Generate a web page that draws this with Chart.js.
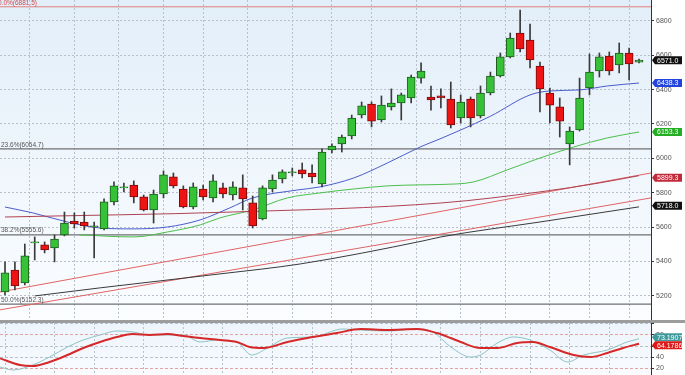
<!DOCTYPE html>
<html>
<head>
<meta charset="utf-8">
<script src="https://cdn.jsdelivr.net/npm/chart.js@4.4.0/dist/chart.umd.min.js"></script>
<style>
  html, body { margin: 0; padding: 0; background: #fff; }
  #wrap { position: relative; width: 685px; height: 375px; overflow: hidden; }
  #main { position: absolute; left: 0; top: 0; }
  #sep { position: absolute; left: 0; top: 320px; width: 685px; height: 3px; background: #9c9c9c; }
  #sub { position: absolute; left: 0; top: 323px; }
</style>
</head>
<body>
<div id="wrap">
  <canvas id="main" width="685" height="320"></canvas>
  <div id="sep"></div>
  <canvas id="sub" width="685" height="52"></canvas>
</div>
<script>
// daily candles, index 0..64
const opens  = [5223,5351,5276,5508,5497,5479,5555,5636,5630,5601,5590,5747,5828,5845,5776,5700,5793,5892,5822,5717,5822,5770,5828,5787,5828,5741,5648,5822,5880,5915,5933,5915,5851,6049,6084,6130,6252,6316,6223,6299,6322,6351,6467,6357,6363,6345,6235,6345,6247,6380,6479,6590,6729,6688,6537,6380,6299,6084,6165,6409,6508,6595,6543,6613,6560];
const highs  = [5398,5398,5502,5543,5514,5555,5688,5683,5688,5630,5764,5863,5857,5869,5787,5816,5927,5915,5840,5857,5845,5904,5857,5863,5904,5781,5840,5904,5933,5944,5973,5962,6055,6084,6136,6252,6328,6328,6363,6404,6380,6485,6555,6421,6404,6444,6369,6357,6421,6502,6613,6729,6863,6781,6560,6409,6351,6183,6467,6607,6613,6619,6671,6642,6578];
const lows   = [5206,5235,5264,5409,5450,5398,5549,5595,5584,5421,5584,5729,5805,5741,5694,5624,5770,5828,5712,5706,5758,5747,5770,5758,5700,5595,5642,5805,5857,5898,5886,5857,5834,6031,6037,6113,6235,6183,6212,6281,6223,6322,6438,6281,6293,6177,6206,6183,6235,6369,6473,6584,6619,6526,6270,6206,6124,5962,6159,6369,6473,6485,6497,6456,6555];
const closes = [5334,5258,5433,5514,5468,5531,5624,5619,5607,5607,5747,5840,5834,5776,5700,5793,5904,5840,5717,5834,5776,5869,5793,5834,5764,5607,5828,5874,5921,5921,5909,5892,6037,6072,6124,6235,6305,6217,6310,6322,6369,6473,6508,6340,6351,6194,6328,6235,6380,6479,6590,6700,6636,6572,6404,6310,6217,6159,6351,6502,6590,6508,6613,6549,6571];

// moving averages (candle index, price)
const blueIdx = [0,2.8,6.3,9.6,12.9,16.4,19.7,22.7,25,29.5,31.8,35.2,38.6,41.9,43.9,46,49,53,55,58,60.8,64];
const blueVal = [5717,5683,5630,5595,5590,5601,5642,5712,5770,5816,5834,5886,5973,6066,6113,6165,6245,6369,6392,6398,6421,6438.3];
const greenIdx = [7.5,13,16.4,19.7,21.7,25,28.5,31.8,35.2,38.6,41.9,43.9,47.3,50.7,54,57.4,60.8,64];
const greenVal = [5555,5543,5572,5613,5654,5700,5770,5799,5822,5840,5846,5848,5863,5933,6002,6066,6119,6153.3];
const maroonIdx = [0,23,44.1,54,60,64];
const maroonVal = [5659,5688,5741,5805,5857,5899.3];
const blackIdx = [3,9.6,21.7,29.8,42.2,44,54,64];
const blackVal = [5200,5247,5328,5386,5520,5543,5630,5718];
// straight trend lines: [start, end] across the whole panel
const trendUpper = [5223, 5915];
const trendLower = [5119, 5770];

// fibonacci levels
const fibLevels = [6881.5, 6054.7, 5555.6, 5152.3];
const fibLabels = ['0.0%(6881.5)', '23.6%(6054.7)', '38.2%(5555.6)', '50.0%(5152.3)'];

const priceTicks = [5200,5400,5600,5800,6000,6200,6400,6600,6800];
const weekIdx = [0,5,9,14,18,22,27,31,35,39,44,48,53,57,61];

// stochastic
const stochRedIdx = [-0.5,1.5,2.8,4.5,6.3,7.9,9.6,11.3,12.9,14.6,16.4,18,19.7,21.7,23.4,24.7,26.1,28.5,31.1,33.5,35.9,38.6,41.6,43.6,45,46,48,49.7,51.7,53.3,55,57.4,59.1,60.8,62.4,64];
const stochRedVal = [37.6,25.5,23.6,30.9,43.6,56.4,67.3,76.4,81.8,80,81.8,78.2,74.5,70.9,67.3,58.2,56.4,67.3,76.4,83.6,90.9,89.1,90.9,83.6,74.5,67.3,56.4,56.4,65.5,67.3,58.2,43.6,40,47.3,56.4,64.1];
const stochTealIdx = [-0.5,0.8,2.8,4.5,6.3,7.9,9.6,11.3,12.9,14.6,18,19.7,21.4,23.4,24.9,26.5,28.5,31.1,34.1,35.9,38.6,41.6,43.2,45,47,48,49.7,51.3,53,55,56.8,58.4,60.8,62.8,64];
const stochTealVal = [21.8,16.4,25.5,40,58.2,70.9,80,87.3,85.5,80,80,67.3,70.9,67.3,43.6,56.4,74.5,76.4,90.9,89.1,87.3,90.9,85.5,58.2,40,43.6,65.5,76.4,70.9,52.7,30.9,43.6,52.7,67.3,73.1];
const stochTicks = [20,40,60,80,100];

const X_MIN = -0.505, X_MAX = 65.21;
const FONT = '"Liberation Sans", Arial, sans-serif';
const UP = '#36c236', UP_EDGE = '#1e5e1e', DOWN = '#ee1414', DOWN_EDGE = '#7a0a0a';

const pts = (xs, ys) => xs.map((x, i) => ({ x, y: ys[i] }));
const isUp = i => closes[i] >= opens[i];

const bgPlugin = {
  id: 'bg',
  beforeDraw(chart, args, opts) {
    const { ctx, chartArea: a } = chart;
    const g = ctx.createLinearGradient(0, a.top, 0, a.bottom);
    g.addColorStop(0, opts.top);
    g.addColorStop(1, opts.bottom);
    ctx.save();
    ctx.fillStyle = g;
    ctx.fillRect(a.left, a.top, a.right - a.left, a.bottom - a.top);
    ctx.restore();
  }
};

function drawTag(ctx, x, y, text, bg) {
  const h = 8, w = 30;
  ctx.fillStyle = bg;
  ctx.beginPath();
  ctx.moveTo(x, y);
  ctx.lineTo(x + 3, y - h / 2);
  ctx.lineTo(x + w, y - h / 2);
  ctx.lineTo(x + w, y + h / 2);
  ctx.lineTo(x + 3, y + h / 2);
  ctx.closePath();
  ctx.fill();
  ctx.fillStyle = '#fff';
  ctx.font = '7px ' + FONT;
  ctx.textBaseline = 'middle';
  ctx.textAlign = 'left';
  ctx.fillText(text, x + 5, y + 0.5);
}

const tagPlugin = {
  id: 'tags',
  afterDraw(chart, args, opts) {
    const { ctx, chartArea: a } = chart;
    const y = chart.scales.y;
    ctx.save();
    opts.items.forEach(t => drawTag(ctx, a.right + 1, y.getPixelForValue(t.v) + (t.dy || 0), t.text, t.bg));
    ctx.restore();
  }
};

const fibPlugin = {
  id: 'fibText',
  afterDatasetsDraw(chart) {
    const { ctx } = chart;
    const y = chart.scales.y;
    ctx.save();
    ctx.font = '6.5px ' + FONT;
    ctx.textBaseline = 'bottom';
    fibLevels.forEach((v, i) => {
      ctx.fillStyle = i === 0 ? '#d04848' : '#555';
      ctx.fillText(fibLabels[i], i === 0 ? -2 : 1, y.getPixelForValue(v) - (i === 0 ? 0 : 1));
    });
    ctx.restore();
  }
};

const xScale = {
  type: 'linear', min: X_MIN, max: X_MAX, offset: false,
  ticks: { display: false },
  grid: { color: '#b7c1cb', drawTicks: false },
  border: { display: false, dash: [2, 2] },
  afterBuildTicks: s => { s.ticks = weekIdx.map(v => ({ value: v })); },
  afterFit: s => { s.height = 0; }
};

const lineDs = (data, color, width, order) => ({
  type: 'line', data, borderColor: color, borderWidth: width,
  pointRadius: 0, fill: false, cubicInterpolationMode: 'monotone', order
});

const fibDatasets = fibLevels.map((v, i) => ({
  type: 'line',
  data: [{ x: X_MIN, y: v }, { x: X_MAX, y: v }],
  borderColor: i === 0 ? '#e07c7c' : '#6f6f6f',
  borderWidth: i === 0 ? 1 : 1.3,
  pointRadius: 0, order: 6
}));

new Chart(document.getElementById('main'), {
  type: 'bar',
  data: {
    datasets: [
      ...fibDatasets,
      lineDs([{ x: X_MIN, y: trendUpper[0] }, { x: X_MAX, y: trendUpper[1] }], '#e06464', 1, 5),
      lineDs([{ x: X_MIN, y: trendLower[0] }, { x: X_MAX, y: trendLower[1] }], '#e06464', 1, 5),
      lineDs(pts(blackIdx, blackVal), '#3a3a3a', 1, 4),
      lineDs(pts(maroonIdx, maroonVal), '#b04252', 1, 4),
      lineDs(pts(greenIdx, greenVal), '#4cbf4c', 1, 4),
      lineDs(pts(blueIdx, blueVal), '#4c5ccc', 1, 4),
      {
        data: lows.map((l, i) => ({ x: i, y: [l, highs[i]] })),
        backgroundColor: '#3a3a3a', barThickness: 1, grouped: false, order: 2
      },
      {
        data: opens.map((o, i) => ({ x: i, y: [o, closes[i]] })),
        backgroundColor: c => isUp(c.dataIndex) ? UP : DOWN,
        borderColor: c => isUp(c.dataIndex) ? UP_EDGE : DOWN_EDGE,
        borderWidth: 1, borderSkipped: false,
        barThickness: 8, grouped: false, order: 1
      }
    ]
  },
  options: {
    responsive: false, animation: false,
    layout: { padding: 0 },
    plugins: {
      legend: { display: false }, tooltip: { enabled: false },
      bg: { top: '#e2eef9', bottom: '#fbfdff' },
      tags: { items: [
        { v: 6571.0, text: '6571.0', bg: '#111111' },
        { v: 6438.3, text: '6438.3', bg: '#2244dd' },
        { v: 6153.3, text: '6153.3', bg: '#22ad22' },
        { v: 5899.3, text: '5899.3', bg: '#c02a3a', dy: 2 },
        { v: 5718.0, text: '5718.0', bg: '#111111', dy: -1 }
      ] }
    },
    scales: {
      x: xScale,
      y: {
        position: 'right', min: 5060, max: 6921,
        ticks: { color: '#555', font: { size: 7, family: FONT }, padding: 2,
                 autoSkip: false, callback: v => String(v) },
        grid: { color: '#b7c1cb', tickLength: 3, tickColor: '#333' },
        border: { display: true, color: '#333', width: 1, dash: [2, 2] },
        afterBuildTicks: s => { s.ticks = priceTicks.map(v => ({ value: v })); },
        afterFit: s => { s.width = 34; s.paddingTop = 0; s.paddingBottom = 0; }
      }
    }
  },
  plugins: [bgPlugin, fibPlugin, tagPlugin]
});

new Chart(document.getElementById('sub'), {
  type: 'line',
  data: {
    datasets: [
      lineDs(pts(stochTealIdx, stochTealVal), '#8cc3c6', 1, 2),
      lineDs(pts(stochRedIdx, stochRedVal), '#d62828', 2, 1)
    ]
  },
  options: {
    responsive: false, animation: false,
    layout: { padding: 0 },
    plugins: {
      legend: { display: false }, tooltip: { enabled: false },
      bg: { top: '#edf4fb', bottom: '#f9fbfe' },
      tags: { items: [
        { v: 73.1, text: '73.1907', bg: '#3f9a9c', dy: -1.5 },
        { v: 64.1, text: '64.1786', bg: '#e01818', dy: 1.5 }
      ] }
    },
    scales: {
      x: xScale,
      y: {
        position: 'right', min: 7.3, max: 101.8,
        ticks: { color: '#555', font: { size: 7, family: FONT }, padding: 2, autoSkip: false,
                 callback: v => v === 100 ? '' : String(v) },
        grid: { color: c => (c.tick && (c.tick.value === 80 || c.tick.value === 20)) ? '#e4a2a2' : '#b7c1cb',
                tickLength: 3, tickColor: '#333' },
        border: { display: true, color: '#333', width: 1, dash: [3, 2] },
        afterBuildTicks: s => { s.ticks = stochTicks.map(v => ({ value: v })); },
        afterFit: s => { s.width = 34; s.paddingTop = 0; s.paddingBottom = 0; }
      }
    }
  },
  plugins: [bgPlugin, tagPlugin]
});
</script>
</body>
</html>
